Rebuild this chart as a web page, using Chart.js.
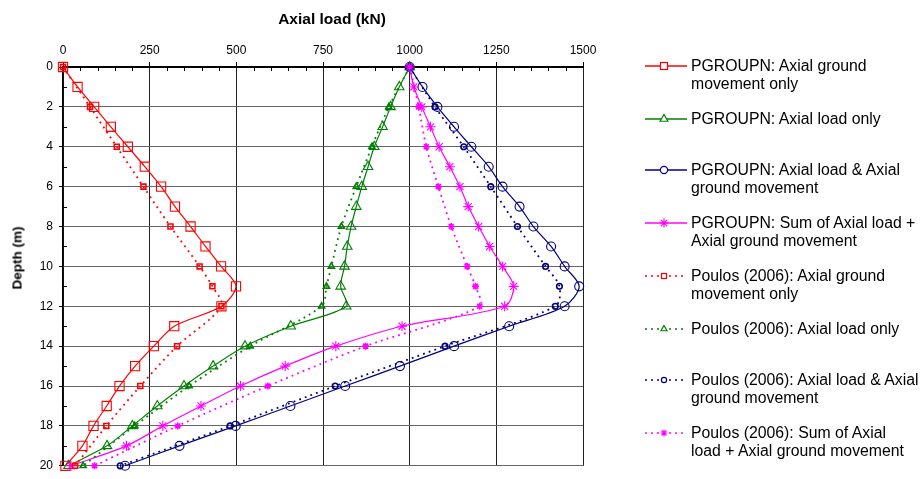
<!DOCTYPE html>
<html>
<head>
<meta charset="utf-8">
<script src="https://cdn.jsdelivr.net/npm/chart.js@4.4.0/dist/chart.umd.min.js"></script>
<style>
  body { margin: 0; background: #fff; font-family: "Liberation Sans", Arial, sans-serif; }
  #wrap { position: relative; width: 923px; height: 479px; }
  .ttl { position: absolute; font-weight: bold; color: #000; white-space: nowrap; }
  #xTitle { left: 332px; top: 19px; transform: translate(-50%, -50%); font-size: 15.5px; }
  #yTitle { left: 17px; top: 258px; transform: translate(-50%, -50%) rotate(-90deg); font-size: 13.5px; }
  .leg { position: absolute; left: 643px; width: 280px; height: 40px; }
  .leg svg { position: absolute; left: 0; top: 0; }
  .leg span { position: absolute; left: 48px; top: 0; font-size: 15.8px; line-height: 18px; white-space: nowrap; color: #000; }
</style>
</head>
<body>
<div id="wrap">
  <canvas id="chart" width="923" height="479"></canvas>
  <div class="ttl" id="xTitle">Axial load (kN)</div>
  <div class="ttl" id="yTitle">Depth (m)</div>
  <div id="legend"></div>
</div>
<script>
// depths (m)
const pgDepth = [0, 1, 2, 3, 4, 5, 6, 7, 8, 9, 10, 11, 12, 13, 14, 15, 16, 17, 18, 19, 20];
const poDepth = [0, 2, 4, 6, 8, 10, 11, 12, 14, 16, 18, 20];

// PGROUPN results (kN)
const pgGround = [0, 42, 90, 138, 187, 236, 283, 323, 368, 411, 456, 499, 457, 321, 262, 208, 163, 126, 88, 56, 7];
const pgLoad = [1000, 970, 945, 922, 898, 880, 862, 846, 831, 820, 812, 801, 817, 657, 525, 433, 349, 272, 200, 127, 16];
const pgBoth = [1000, 1037, 1080, 1128, 1178, 1228, 1268, 1317, 1357, 1408, 1447, 1489, 1447, 1287, 1128, 972, 814, 656, 498, 336, 179];
const pgSum = [1000, 1012, 1035, 1060, 1085, 1116, 1145, 1169, 1199, 1231, 1268, 1300, 1274, 978, 787, 641, 512, 398, 288, 183, 23];

// Poulos (2006) results (kN)
const poGround = [0, 78, 155, 232, 310, 394, 431, 457, 329, 223, 125, 35];
const poLoad = [1000, 940, 891, 846, 803, 774, 760, 746, 540, 364, 207, 58];
const poBoth = [1000, 1073, 1156, 1234, 1311, 1392, 1432, 1420, 1102, 785, 482, 165];
const poSum = [1000, 1026, 1048, 1083, 1120, 1166, 1190, 1202, 873, 591, 331, 91];

// axis labels
const loadTicks = [0, 250, 500, 750, 1000, 1250, 1500];
const depthTicks = [0, 2, 4, 6, 8, 10, 12, 14, 16, 18, 20];

const series = [
  { label: ["PGROUPN: Axial ground", "movement only"], depth: pgDepth, load: pgGround, color: "#ff0000", shape: "rect", dotted: false },
  { label: ["PGROUPN: Axial load only"], depth: pgDepth, load: pgLoad, color: "#008000", shape: "triangle", dotted: false },
  { label: ["PGROUPN: Axial load & Axial", "ground movement"], depth: pgDepth, load: pgBoth, color: "#000080", shape: "circle", dotted: false },
  { label: ["PGROUPN: Sum of Axial load +", "Axial ground movement"], depth: pgDepth, load: pgSum, color: "#ff00ff", shape: "star", dotted: false },
  { label: ["Poulos (2006): Axial ground", "movement only"], depth: poDepth, load: poGround, color: "#ff0000", shape: "rect", dotted: true },
  { label: ["Poulos (2006): Axial load only"], depth: poDepth, load: poLoad, color: "#008000", shape: "triangle", dotted: true },
  { label: ["Poulos (2006): Axial load & Axial", "ground movement"], depth: poDepth, load: poBoth, color: "#000080", shape: "circle", dotted: true },
  { label: ["Poulos (2006): Sum of Axial", "load + Axial ground movement"], depth: poDepth, load: poSum, color: "#ff00ff", shape: "star", dotted: true }
];

const bigR = { rect: 6.5, triangle: 5.5, circle: 4.5, star: 5 };
const smallR = { rect: 3.5, triangle: 3.5, circle: 2.8, star: 3.5 };

const datasets = series.map((s, i) => ({
  label: s.label.join(" "),
  data: s.depth.map((d, k) => ({ x: s.load[k], y: d })),
  showLine: true,
  borderColor: s.color,
  borderWidth: s.dotted ? 1.8 : 1.2,
  borderDash: s.dotted ? [1.8, 4.2] : [],
  tension: 0.3,
  pointStyle: s.shape,
  pointRadius: s.dotted ? smallR[s.shape] : bigR[s.shape],
  pointBorderColor: s.color,
  pointBackgroundColor: "rgba(0,0,0,0)",
  pointBorderWidth: s.dotted ? 1.6 : 1.1,
  clip: false,
  order: series.length - i
}));

// small inward ticks between the labelled ones
const minorTicks = {
  id: "minorTicks",
  afterDraw(chart) {
    const { ctx, chartArea: a, scales: { x, y } } = chart;
    ctx.save();
    ctx.strokeStyle = "#000";
    ctx.lineWidth = 1;
    ctx.beginPath();
    for (let v = 50; v < 1500; v += 50) {
      if (loadTicks.includes(v)) continue;
      const px = Math.round(x.getPixelForValue(v)) + 0.5;
      ctx.moveTo(px, a.top);
      ctx.lineTo(px, a.top + 4);
    }
    for (let d = 1; d < 20; d += 2) {
      const py = Math.round(y.getPixelForValue(d)) + 0.5;
      ctx.moveTo(a.left, py);
      ctx.lineTo(a.left + 4, py);
    }
    ctx.stroke();
    ctx.restore();
  }
};

const font = { family: '"Liberation Sans", Arial, sans-serif', size: 12 };

new Chart(document.getElementById("chart"), {
  type: "scatter",
  data: { datasets },
  options: {
    responsive: false,
    animation: false,
    devicePixelRatio: 1,
    layout: { padding: { left: 0, top: 0, right: 340, bottom: 6 } },
    plugins: { legend: { display: false }, tooltip: { enabled: false } },
    scales: {
      x: {
        type: "linear",
        position: "top",
        min: 0,
        max: 1500,
        afterFit(s) { s.height = 67; },
        afterBuildTicks(s) { s.ticks = []; for (let v = 0; v <= 1500; v += 50) s.ticks.push({ value: v }); },
        ticks: {
          autoSkip: false,
          maxRotation: 0,
          padding: 4,
          color: "#000",
          font,
          callback: v => loadTicks.includes(v) ? String(v) : ""
        },
        grid: {
          color: c => c.tick && loadTicks.includes(c.tick.value) ? "#222" : "rgba(0,0,0,0)",
          tickColor: c => c.tick && loadTicks.includes(c.tick.value) ? "#000" : "rgba(0,0,0,0)",
          tickLength: 5,
          lineWidth: 1
        },
        border: { display: true, color: "#000", width: 2 }
      },
      y: {
        type: "linear",
        reverse: true,
        min: 0,
        max: 20,
        afterFit(s) { s.width = 63; },
        afterBuildTicks(s) { s.ticks = []; for (let d = 0; d <= 20; d++) s.ticks.push({ value: d }); },
        ticks: {
          autoSkip: false,
          padding: 6,
          color: "#000",
          font,
          callback: v => depthTicks.includes(v) ? String(v) : ""
        },
        grid: {
          color: c => c.tick && depthTicks.includes(c.tick.value) ? "#666" : "rgba(0,0,0,0)",
          tickColor: c => c.tick && depthTicks.includes(c.tick.value) ? "#000" : "rgba(0,0,0,0)",
          tickLength: 4,
          lineWidth: 1
        },
        border: { display: true, color: "#000", width: 1.5 }
      }
    }
  },
  plugins: [minorTicks]
});

// legend
const legendRows = [66, 119, 170, 223, 276, 329, 380, 433];
function markerSvg(shape, small, color) {
  const cx = 21, cy = 9;
  if (shape === "rect") {
    const s = small ? 5 : 7;
    return `<rect x="${cx - s / 2}" y="${cy - s / 2}" width="${s}" height="${s}" fill="#fff" stroke="${color}" stroke-width="1.2"/>`;
  }
  if (shape === "triangle") {
    const r = small ? 3.5 : 4.5;
    const h = r * 0.866;
    return `<polygon points="${cx},${cy - r} ${cx + h},${cy + r / 2} ${cx - h},${cy + r / 2}" fill="#fff" stroke="${color}" stroke-width="1.2"/>`;
  }
  if (shape === "circle") {
    return `<circle cx="${cx}" cy="${cy}" r="${small ? 2.6 : 3.6}" fill="#fff" stroke="${color}" stroke-width="1.2"/>`;
  }
  const r = small ? 3.5 : 4.5, q = r * 0.707;
  return `<path d="M${cx - r} ${cy}H${cx + r}M${cx} ${cy - r}V${cy + r}M${cx - q} ${cy - q}L${cx + q} ${cy + q}M${cx - q} ${cy + q}L${cx + q} ${cy - q}" stroke="${color}" stroke-width="1.2"/>`;
}
const legendEl = document.getElementById("legend");
series.forEach((s, i) => {
  const dash = s.dotted ? 'stroke-dasharray="2,4"' : "";
  legendEl.innerHTML += `
    <div class="leg" style="top:${legendRows[i] - 9}px">
      <svg width="46" height="18"><line x1="2" y1="9" x2="44" y2="9" stroke="${s.color}" stroke-width="1.5" ${dash}/>${markerSvg(s.shape, s.dotted, s.color)}</svg>
      <span>${s.label.join("<br>").replace(/&(?!lt;|gt;)/g, "&amp;")}</span>
    </div>`;
});
</script>
</body>
</html>
